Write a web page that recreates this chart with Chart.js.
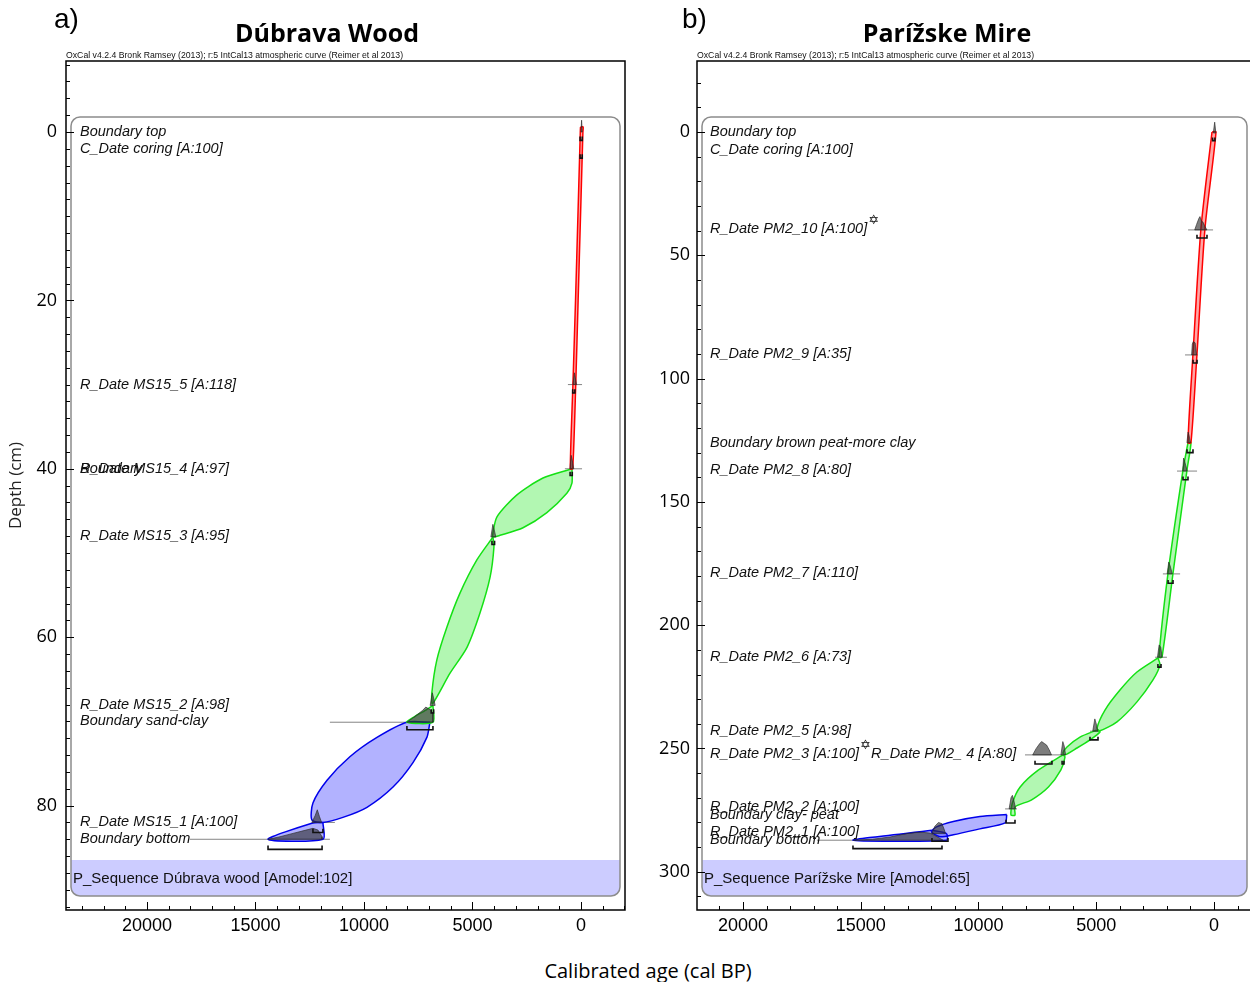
<!DOCTYPE html>
<html><head><meta charset="utf-8">
<script src="https://cdn.jsdelivr.net/npm/chart.js@4.4.1/dist/chart.umd.min.js"></script>
<style>
html,body{margin:0;padding:0;background:#fff;overflow:hidden;width:1250px;height:982px;}
#wrap{position:relative;width:1250px;height:982px;overflow:hidden;}
canvas{position:absolute;top:0;}
#ca{left:0}#cb{left:640px}
.t{position:absolute;transform:translate(-50%,-50%);line-height:1;white-space:nowrap;color:#000;}
.panel{position:absolute;line-height:1;font-family:'Liberation Sans',Arial,sans-serif;font-size:28px;color:#000}
</style></head><body><div id="wrap">
<canvas id="ca" width="640" height="940"></canvas>
<canvas id="cb" width="640" height="940"></canvas>
<div class="panel" style="left:54px;top:5px">a)</div>
<div class="panel" style="left:682px;top:5px">b)</div>
<div class="t" style="left:327px;top:32px;font:700 25px 'Open Sans'">Dúbrava Wood</div>
<div class="t" style="left:947px;top:32px;font:700 25px 'Open Sans'">Parížske Mire</div>
<div class="t" style="left:648px;top:970px;font:20px 'Open Sans'">Calibrated age (cal BP)</div>
</div>
<script>
// ================= DATA =================
const xTickValues = [20000, 15000, 10000, 5000, 0];
const aDepthTicks = [0, 20, 40, 60, 80];
const bDepthTicks = [0, 50, 100, 150, 200, 250, 300];
const headerText = 'OxCal v4.2.4 Bronk Ramsey (2013); r:5 IntCal13 atmospheric curve (Reimer et al 2013)';

// ---- Panel a: Dúbrava Wood ----
const aLabels = ['Boundary top', 'C_Date coring [A:100]', 'R_Date MS15_5 [A:118]', 'Boundary', 'R_Date MS15_4 [A:97]',
  'R_Date MS15_3 [A:95]', 'R_Date MS15_2 [A:98]', 'Boundary sand-clay', 'R_Date MS15_1 [A:100]', 'Boundary bottom'];
const aLabelDepths = [0, 2, 30, 40, 40, 48, 68, 70, 82, 84];
const aSequence = 'P_Sequence Dúbrava wood [Amodel:102]';

// envelopes: [age cal BP, depth cm]
const aRed = [[20,-0.6],[30,0],[140,10],[250,20],[370,30],[490,40],[380,40],[240,30],[130,20],[20,10],[-90,0],[-100,-0.6]];
const aGreen1 = [[415,40.0],[1750,41.1],[2950,43.1],[3870,45.7],[4055,47.6],[4055,48.1],[3730,47.9],[2670,47.0],[1570,45.2],[650,42.9],[415,41.7]];
const aGreen2 = [[4055,48.1],[4790,50.8],[5580,54.8],[6175,58.8],[6640,62.7],[6870,66.6],[6840,67.9],[6040,64.3],[5250,61.2],[4650,57.1],[4190,52.9],[4010,49.3]];
const aGreen3 = [[6820,68.1],[7240,68.8],[7650,69.4],[8020,70.1],[6820,70.1]];
const aBlue1 = [[6960,70.1],[7100,71.9],[7740,74.9],[8660,77.8],[9860,80.2],[10970,81.4],[11890,82.0],[12400,81.7],[12350,79.7],[11700,77.0],[10650,74.2],[9400,71.9],[8020,70.1]];
const aBlue2 = [[11890,82.0],[12400,82.1],[14420,84.0],[11890,84.0]];
// probability distributions (dark)
const aHists = [
  [[0,0],[-30,-1.4],[-60,0]],
  [[370,30],[300,28.6],[260,29.2],[200,30]],
  [[510,40],[450,38.4],[400,39],[330,40]],
  [[4150,48.1],[4060,46.6],[4000,47.2],[3920,48.1]],
  [[6950,68.1],[6850,66.6],[6790,67.2],[6720,68.1]],
  [[8020,70.1],[7700,69.5],[7300,68.7],[7150,68.3],[6950,68.6],[6820,69.0],[6820,70.1]],
  [[12400,82],[12250,81.2],[12150,80.5],[12050,81.3],[11950,82]],
  [[14420,84],[13870,83.7],[13270,83.3],[12810,83.0],[12350,82.7],[12120,82.9],[11930,83.7],[11930,84]]
];
// likelihood baselines [older, younger, depth]
const aBaselines = [[600,-50,30.0],[740,-50,40.0],[11570,6820,70.1],[11890,11340,82.0],[18020,11570,84.0]];
// 95% range brackets [older, younger, depth]
const aBrackets = [[40,-60,1.0],[40,-60,3.1],[380,280,31.0],[500,400,40.8],[4100,3980,49.0],[6900,6790,69.0],[8020,6820,71.0],[12350,11890,83.2],[14420,11930,85.2]];

// ---- Panel b: Parížske Mire ----
const bLabels = ['Boundary top', 'C_Date coring [A:100]', 'R_Date PM2_10 [A:100]✡', 'R_Date PM2_9 [A:35]', 'Boundary brown peat-more clay',
  'R_Date PM2_8 [A:80]', 'R_Date PM2_7 [A:110]', 'R_Date PM2_6 [A:73]', 'R_Date PM2_5 [A:98]', 'R_Date PM2_3 [A:100]✡R_Date PM2_ 4 [A:80]',
  'R_Date PM2_2 [A:100]', 'Boundary clay- peat', 'R_Date PM2_1 [A:100]', 'Boundary bottom'];
const bLabelDepths = [0, 7.3, 39.3, 90, 126.1, 137.1, 178.8, 212.9, 242.9, 252.2, 273.7, 276.9, 283.9, 287.2];
const bSequence = 'P_Sequence Parížske Mire [Amodel:65]';

const bRed = [[85,0],[552,39],[892,90],[1104,126],[977,126],[722,90],[382,39],[-85,0]];
const bGreen1 = [[1104,126],[1316,137],[1953,179],[2335,213],[2208,213],[1741,179],[1146,137],[977,126]];
const bGreen2 = [[2378,213.3],[3270,219.0],[3992,226.3],[4628,234.4],[4968,241.7],[4841,242.8],[4119,239.2],[3270,231.1],[2590,222.2],[2293,216.1]];
const bGreen3 = [[4968,242.5],[5690,245.4],[6242,249.4],[6412,251.8],[6327,252.6],[5817,249.8],[5265,246.5],[4841,243.3]];
const bGreen4 = [[6412,252.6],[7450,258.7],[8230,265.6],[8560,272.1],[8620,277.0],[8450,277.0],[8450,273.7],[7760,270.9],[7030,265.6],[6500,258.7],[6327,253.4]];
const bBlue1 = [[8800,276.8],[9940,277.6],[11070,279.6],[11780,281.8],[12000,283.8],[11640,285.8],[11070,285.0],[9940,282.6],[8870,280.2]];
const bBlue2 = [[11990,283.2],[15330,287.2],[11360,287.2],[11360,284.5]];
const bHists = [
  [[30,0.4],[-30,-4],[-80,0.4]],
  [[820,39.7],[740,37.5],[640,35],[595,34.3],[540,36],[470,36.5],[400,38],[300,39.7]],
  [[950,90.4],[920,86],[880,85],[800,85.5],[740,90.4]],
  [[1150,126],[1100,121.7],[1060,123],[1000,126]],
  [[1330,137.5],[1290,132.2],[1230,134],[1140,137.5]],
  [[1990,179.2],[1920,174.4],[1860,176],[1770,179.2]],
  [[2400,213],[2330,208],[2260,209],[2200,213]],
  [[5150,243],[5060,238],[5000,240],[4930,243]],
  [[7700,252.6],[7550,250],[7400,248],[7320,247.2],[7200,248],[7110,248.6],[7000,250.5],[6900,252.6]],
  [[6500,252.6],[6420,247.2],[6360,249],[6300,252.6]],
  [[8700,274.5],[8620,270],[8560,269],[8500,271],[8420,274.5]],
  [[11990,284.5],[11850,281.5],[11700,280.0],[11550,280.5],[11450,283],[11400,284.5]],
  [[15320,287.2],[14500,286.8],[13760,285.9],[13050,284.5],[12480,283.9],[12060,284.3],[11850,285.3],[11500,287.2]]
];
const bBaselines = [[1100,40,39.7],[1230,680,90.4],[1570,720,137.5],[2170,1440,179.2],[2500,2000,213],[5265,4841,243],[8025,6467,252.6],[8870,8365,274.5],[16860,15330,287.2]];
const bBrackets = [[60,-40,3.5],[722,297,43],[890,720,93.7],[1146,892,130],[1316,1104,141],[1950,1740,183],[2380,2250,217],[5265,4925,246.5],[7600,6880,256.3],[6450,6370,256.3],[8830,8450,280.2],[11975,11295,287.6],[15330,11550,290.6]];

// ================= STYLE / BUILD =================
const RED = {stroke:'rgb(255,0,0)', fill:'rgba(255,0,0,0.35)'};
const GREEN = {stroke:'rgb(20,225,20)', fill:'rgba(0,230,0,0.3)'};
const BLUE = {stroke:'rgb(0,0,235)', fill:'rgba(20,20,255,0.33)'};

const toPts = arr => arr.map(([x, y]) => ({x, y}));
function polyDs(arr, col, order, width, tension) {
  const p = toPts(arr); p.push({...p[0]});
  return {data:p, showLine:true, borderColor:col.stroke, backgroundColor:col.fill, borderWidth:width,
    fill:'shape', pointRadius:0, tension:tension, order:order};
}
function lineDs(p, color, width, order) {
  return {data:p, showLine:true, borderColor:color, backgroundColor:color, borderWidth:width, fill:false, pointRadius:0, tension:0, order:order};
}
function buildDatasets(env, hists, bases, brackets, bh) {
  const ds = [];
  env.forEach(([arr, col]) => ds.push(polyDs(arr, col, 4, 1.5, 0.25)));
  bases.forEach(([a0, a1, d]) => ds.push(lineDs([{x:a0,y:d},{x:a1,y:d}], 'rgba(110,110,110,0.85)', 1, 5)));
  hists.forEach(h => ds.push(polyDs(h, {stroke:'rgba(40,40,40,0.8)', fill:'rgba(45,45,45,0.62)'}, 2, 0.8, 0)));
  brackets.forEach(([a0, a1, d]) => ds.push(lineDs([{x:a0,y:d-bh},{x:a0,y:d},{x:a1,y:d},{x:a1,y:d-bh}], '#111', 1.6, 1)));
  return ds;
}

function pathRound(ctx, L, T, R, B, r) {
  ctx.beginPath();
  ctx.moveTo(L + r, T); ctx.lineTo(R - r, T); ctx.arcTo(R, T, R, T + r, r);
  ctx.lineTo(R, B - r); ctx.arcTo(R, B, R - r, B, r);
  ctx.lineTo(L + r, B); ctx.arcTo(L, B, L, B - r, r);
  ctx.lineTo(L, T + r); ctx.arcTo(L, T, L + r, T, r); ctx.closePath();
}

const oxcalPlugin = {
  id: 'oxcal',
  beforeDatasetsDraw(chart, args, o) {
    const {ctx, chartArea: ca} = chart;
    const L = ca.left + 5, R = ca.right - 5, T = ca.top + 56, B = ca.bottom - 14, r = 9;
    ctx.save();
    ctx.beginPath();
    ctx.moveTo(L, B - 36); ctx.lineTo(R, B - 36); ctx.lineTo(R, B - r); ctx.arcTo(R, B, R - r, B, r);
    ctx.lineTo(L + r, B); ctx.arcTo(L, B, L, B - r, r); ctx.closePath();
    ctx.fillStyle = 'rgb(204,204,255)'; ctx.fill();
    pathRound(ctx, L, T, R, B, r);
    ctx.strokeStyle = '#8c8c8c'; ctx.lineWidth = 1.5; ctx.stroke();
    ctx.restore();
  },
  afterDatasetsDraw(chart, args, o) {
    const {ctx, chartArea: ca, scales: {y}} = chart;
    ctx.save();
    ctx.textBaseline = 'middle'; ctx.fillStyle = '#111';
    const lf = 'italic 14.5px "Liberation Sans", Arial, sans-serif';
    o.labels.forEach((t, i) => {
      const py = y.getPixelForValue(o.depths[i]);
      let px = ca.left + o.inset;
      t.split('✡').forEach((part, j) => {
        if (j > 0) {
          ctx.font = '13px "DejaVu Sans"';
          ctx.fillText('✡', px + 1, py - 8);
          px += 12;
        }
        ctx.font = lf;
        ctx.fillText(part, px, py);
        px += ctx.measureText(part).width;
      });
    });
    ctx.font = '15px "Liberation Sans", Arial, sans-serif';
    ctx.fillStyle = '#111';
    ctx.fillText(o.sequence, ca.left + 7, ca.bottom - 14 - 17);
    ctx.restore();
  },
  afterDraw(chart, args, o) {
    const {ctx, chartArea: ca, scales: {x, y}} = chart;
    ctx.save();
    ctx.strokeStyle = '#000'; ctx.lineWidth = 1;
    for (let v = Math.ceil(x.min / o.xMinor) * o.xMinor; v <= x.max; v += o.xMinor) {
      const px = Math.round(x.getPixelForValue(v)) + 0.5;
      const len = (v % o.xMajor === 0) ? 8 : 4;
      ctx.beginPath(); ctx.moveTo(px, ca.bottom); ctx.lineTo(px, ca.bottom - len); ctx.stroke();
    }
    for (let v = Math.ceil(y.min / o.yMinor) * o.yMinor; v <= y.max; v += o.yMinor) {
      const py = Math.round(y.getPixelForValue(v)) + 0.5;
      const len = (v % o.yMajor === 0) ? 8 : 4;
      ctx.beginPath(); ctx.moveTo(ca.left, py); ctx.lineTo(ca.left + len, py); ctx.stroke();
    }
    ctx.lineWidth = 1.5;
    ctx.strokeRect(ca.left, ca.top, ca.right - ca.left, ca.bottom - ca.top);
    ctx.font = '8.7px "Liberation Sans", Arial, sans-serif';
    ctx.fillStyle = '#111'; ctx.textBaseline = 'bottom';
    ctx.fillText(headerText, ca.left, ca.top - 1);
    ctx.restore();
  }
};

function makeChart(id, c) {
  return new Chart(document.getElementById(id), {
    type: 'scatter',
    data: {datasets: c.datasets},
    options: {
      responsive: false, animation: false, devicePixelRatio: 1,
      layout: {padding: {left: 0, top: 61, right: c.padRight, bottom: 0}},
      plugins: {legend: {display: false}, tooltip: {enabled: false}, title: {display: false},
        oxcal: {labels: c.labels, depths: c.depths, sequence: c.sequence, inset: c.inset,
          xMinor: 1000, xMajor: 5000, yMinor: c.yMinor, yMajor: c.yMajor}},
      scales: {
        x: {type: 'linear', reverse: true, min: c.xMin, max: c.xMax,
          afterBuildTicks: s => { s.ticks = xTickValues.map(v => ({value: v})); },
          afterFit: s => { s.height = 30; },
          grid: {display: false, drawTicks: false}, border: {display: false},
          ticks: {font: {family: "'Liberation Sans', Arial", size: 18}, color: '#000', padding: 5,
            maxRotation: 0, autoSkip: false, callback: v => String(v)}},
        y: {type: 'linear', reverse: true, min: c.yMin, max: c.yMax,
          afterBuildTicks: s => { s.ticks = c.yTicks.map(v => ({value: v})); },
          afterFit: s => { s.width = c.yAxisWidth; },
          grid: {display: false, drawTicks: false}, border: {display: false},
          ticks: {font: {family: "'Open Sans'", size: 18}, color: '#000', padding: c.yPad, autoSkip: false, callback: v => String(v)},
          title: c.yTitle ? {display: true, text: c.yTitle, font: {family: "'Open Sans'", size: 17}, color: '#222', padding: {top: 6, bottom: 0}} : {display: false}}
      }
    },
    plugins: [oxcalPlugin]
  });
}

makeChart('ca', {
  datasets: buildDatasets([[aRed, RED], [aGreen1, GREEN], [aGreen2, GREEN], [aGreen3, GREEN], [aBlue1, BLUE], [aBlue2, BLUE]],
    aHists, aBaselines, aBrackets, 0.45),
  labels: aLabels, depths: aLabelDepths, sequence: aSequence, inset: 14,
  xMin: -2030, xMax: 23730, yMin: -8.43, yMax: 92.4, yTicks: aDepthTicks, yMinor: 2, yMajor: 20,
  yAxisWidth: 66, yPad: 9, padRight: 15, yTitle: 'Depth (cm)'
});
makeChart('cb', {
  datasets: buildDatasets([[bRed, RED], [bGreen1, GREEN], [bGreen2, GREEN], [bGreen3, GREEN], [bGreen4, GREEN], [bBlue1, BLUE], [bBlue2, BLUE]],
    bHists, bBaselines, bBrackets, 1.3),
  labels: bLabels, depths: bLabelDepths, sequence: bSequence, inset: 13,
  xMin: -1614, xMax: 21953, yMin: -28.8, yMax: 315.5, yTicks: bDepthTicks, yMinor: 10, yMajor: 50,
  yAxisWidth: 57, yPad: 7, padRight: 28, yTitle: null
});
</script>
</body></html>
